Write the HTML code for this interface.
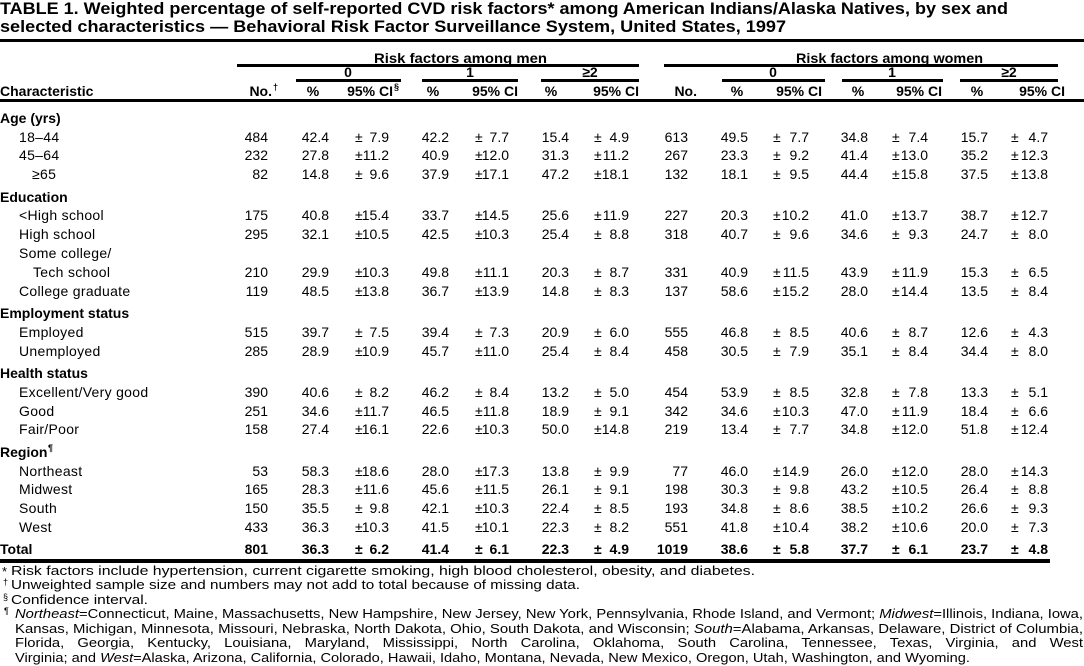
<!DOCTYPE html>
<html><head><meta charset="utf-8"><style>
html,body{margin:0;padding:0;background:#fff;}
svg{display:block}
text{font-family:"Liberation Sans",Arial,Helvetica,sans-serif;font-size:14px;fill:#000}
.b{font-weight:bold}
.r{text-anchor:end}
.m{text-anchor:middle}
.f{font-size:13px}
.s{font-size:9px}
.l{letter-spacing:0.3px}
.t{font-size:17px;font-weight:bold}
</style></head><body>
<svg width="1084" height="666" xmlns="http://www.w3.org/2000/svg">
<rect width="1084" height="666" fill="#fff"/>
<text class="t" x="0" y="14" textLength="1008" lengthAdjust="spacingAndGlyphs">TABLE 1. Weighted percentage of self-reported CVD risk factors* among American Indians/Alaska Natives, by sex and</text>
<text class="t" x="0" y="32" textLength="786" lengthAdjust="spacingAndGlyphs">selected characteristics — Behavioral Risk Factor Surveillance System, United States, 1997</text>
<rect x="0" y="39" width="1084" height="3"/>
<text class="b" x="374" y="63" textLength="173" lengthAdjust="spacingAndGlyphs">Risk factors among men</text>
<text class="b" x="796" y="63" textLength="187" lengthAdjust="spacingAndGlyphs">Risk factors among women</text>
<rect x="237" y="64" width="402" height="3"/>
<rect x="664" y="64" width="394" height="3"/>
<text class="b m" x="348" y="77">0</text>
<text class="b m" x="470" y="77">1</text>
<text class="b m" x="590" y="77">≥2</text>
<text class="b m" x="773" y="77">0</text>
<text class="b m" x="892" y="77">1</text>
<text class="b m" x="1009" y="77">≥2</text>
<rect x="296" y="79" width="105" height="3"/>
<rect x="422" y="79" width="96" height="3"/>
<rect x="541" y="79" width="98" height="3"/>
<rect x="722" y="79" width="103" height="3"/>
<rect x="842" y="79" width="101" height="3"/>
<rect x="960" y="79" width="98" height="3"/>
<text class="b" x="0" y="96">Characteristic</text>
<text class="b r" x="272" y="96">No.</text><text class="b s" x="273" y="90">†</text>
<text class="b m" x="313" y="96">%</text>
<text class="b r" x="393" y="96">95% CI</text><text class="b s" x="394" y="90">§</text>
<text class="b m" x="433" y="96">%</text>
<text class="b r" x="518" y="96">95% CI</text>
<text class="b m" x="551" y="96">%</text>
<text class="b r" x="639" y="96">95% CI</text>
<text class="b r" x="697" y="96">No.</text>
<text class="b m" x="737" y="96">%</text>
<text class="b r" x="822" y="96">95% CI</text>
<text class="b m" x="858" y="96">%</text>
<text class="b r" x="942" y="96">95% CI</text>
<text class="b m" x="977" y="96">%</text>
<text class="b r" x="1065" y="96">95% CI</text>
<rect x="0" y="99" width="1084" height="3"/>

<text class="b" x="0" y="123">Age (yrs)</text>
<g transform="translate(0,142)"><text class="l" x="19">18–44</text><text class="r"><tspan x="268">484</tspan><tspan x="329">42.4</tspan><tspan x="389">7.9</tspan><tspan x="449">42.2</tspan><tspan x="509">7.7</tspan><tspan x="569">15.4</tspan><tspan x="629">4.9</tspan><tspan x="688">613</tspan><tspan x="748">49.5</tspan><tspan x="809">7.7</tspan><tspan x="868">34.8</tspan><tspan x="928">7.4</tspan><tspan x="988">15.7</tspan><tspan x="1048">4.7</tspan></text><text x="355 475 594 773 892 1011">±±±±±±</text></g>
<g transform="translate(0,160)"><text class="l" x="19">45–64</text><text class="r"><tspan x="268">232</tspan><tspan x="329">27.8</tspan><tspan x="389">11.2</tspan><tspan x="449">40.9</tspan><tspan x="509">12.0</tspan><tspan x="569">31.3</tspan><tspan x="629">11.2</tspan><tspan x="688">267</tspan><tspan x="748">23.3</tspan><tspan x="809">9.2</tspan><tspan x="868">41.4</tspan><tspan x="928">13.0</tspan><tspan x="988">35.2</tspan><tspan x="1048">12.3</tspan></text><text x="355 475 594 773 892 1011">±±±±±±</text></g>
<g transform="translate(0,179)"><text class="l" x="32">≥65</text><text class="r"><tspan x="268">82</tspan><tspan x="329">14.8</tspan><tspan x="389">9.6</tspan><tspan x="449">37.9</tspan><tspan x="509">17.1</tspan><tspan x="569">47.2</tspan><tspan x="629">18.1</tspan><tspan x="688">132</tspan><tspan x="748">18.1</tspan><tspan x="809">9.5</tspan><tspan x="868">44.4</tspan><tspan x="928">15.8</tspan><tspan x="988">37.5</tspan><tspan x="1048">13.8</tspan></text><text x="355 475 594 773 892 1011">±±±±±±</text></g>

<text class="b" x="0" y="202">Education</text>
<g transform="translate(0,220)"><text class="l" x="19">&lt;High school</text><text class="r"><tspan x="268">175</tspan><tspan x="329">40.8</tspan><tspan x="389">15.4</tspan><tspan x="449">33.7</tspan><tspan x="509">14.5</tspan><tspan x="569">25.6</tspan><tspan x="629">11.9</tspan><tspan x="688">227</tspan><tspan x="748">20.3</tspan><tspan x="809">10.2</tspan><tspan x="868">41.0</tspan><tspan x="928">13.7</tspan><tspan x="988">38.7</tspan><tspan x="1048">12.7</tspan></text><text x="355 475 594 773 892 1011">±±±±±±</text></g>
<g transform="translate(0,239)"><text class="l" x="19">High school</text><text class="r"><tspan x="268">295</tspan><tspan x="329">32.1</tspan><tspan x="389">10.5</tspan><tspan x="449">42.5</tspan><tspan x="509">10.3</tspan><tspan x="569">25.4</tspan><tspan x="629">8.8</tspan><tspan x="688">318</tspan><tspan x="748">40.7</tspan><tspan x="809">9.6</tspan><tspan x="868">34.6</tspan><tspan x="928">9.3</tspan><tspan x="988">24.7</tspan><tspan x="1048">8.0</tspan></text><text x="355 475 594 773 892 1011">±±±±±±</text></g>
<text class="l" x="19" y="258">Some college/</text>
<g transform="translate(0,277)"><text class="l" x="33">Tech school</text><text class="r"><tspan x="268">210</tspan><tspan x="329">29.9</tspan><tspan x="389">10.3</tspan><tspan x="449">49.8</tspan><tspan x="509">11.1</tspan><tspan x="569">20.3</tspan><tspan x="629">8.7</tspan><tspan x="688">331</tspan><tspan x="748">40.9</tspan><tspan x="809">11.5</tspan><tspan x="868">43.9</tspan><tspan x="928">11.9</tspan><tspan x="988">15.3</tspan><tspan x="1048">6.5</tspan></text><text x="355 475 594 773 892 1011">±±±±±±</text></g>
<g transform="translate(0,296)"><text class="l" x="19">College graduate</text><text class="r"><tspan x="268">119</tspan><tspan x="329">48.5</tspan><tspan x="389">13.8</tspan><tspan x="449">36.7</tspan><tspan x="509">13.9</tspan><tspan x="569">14.8</tspan><tspan x="629">8.3</tspan><tspan x="688">137</tspan><tspan x="748">58.6</tspan><tspan x="809">15.2</tspan><tspan x="868">28.0</tspan><tspan x="928">14.4</tspan><tspan x="988">13.5</tspan><tspan x="1048">8.4</tspan></text><text x="355 475 594 773 892 1011">±±±±±±</text></g>

<text class="b" x="0" y="318">Employment status</text>
<g transform="translate(0,337)"><text class="l" x="19">Employed</text><text class="r"><tspan x="268">515</tspan><tspan x="329">39.7</tspan><tspan x="389">7.5</tspan><tspan x="449">39.4</tspan><tspan x="509">7.3</tspan><tspan x="569">20.9</tspan><tspan x="629">6.0</tspan><tspan x="688">555</tspan><tspan x="748">46.8</tspan><tspan x="809">8.5</tspan><tspan x="868">40.6</tspan><tspan x="928">8.7</tspan><tspan x="988">12.6</tspan><tspan x="1048">4.3</tspan></text><text x="355 475 594 773 892 1011">±±±±±±</text></g>
<g transform="translate(0,356)"><text class="l" x="19">Unemployed</text><text class="r"><tspan x="268">285</tspan><tspan x="329">28.9</tspan><tspan x="389">10.9</tspan><tspan x="449">45.7</tspan><tspan x="509">11.0</tspan><tspan x="569">25.4</tspan><tspan x="629">8.4</tspan><tspan x="688">458</tspan><tspan x="748">30.5</tspan><tspan x="809">7.9</tspan><tspan x="868">35.1</tspan><tspan x="928">8.4</tspan><tspan x="988">34.4</tspan><tspan x="1048">8.0</tspan></text><text x="355 475 594 773 892 1011">±±±±±±</text></g>

<text class="b" x="0" y="378">Health status</text>
<g transform="translate(0,397)"><text class="l" x="19">Excellent/Very good</text><text class="r"><tspan x="268">390</tspan><tspan x="329">40.6</tspan><tspan x="389">8.2</tspan><tspan x="449">46.2</tspan><tspan x="509">8.4</tspan><tspan x="569">13.2</tspan><tspan x="629">5.0</tspan><tspan x="688">454</tspan><tspan x="748">53.9</tspan><tspan x="809">8.5</tspan><tspan x="868">32.8</tspan><tspan x="928">7.8</tspan><tspan x="988">13.3</tspan><tspan x="1048">5.1</tspan></text><text x="355 475 594 773 892 1011">±±±±±±</text></g>
<g transform="translate(0,416)"><text class="l" x="19">Good</text><text class="r"><tspan x="268">251</tspan><tspan x="329">34.6</tspan><tspan x="389">11.7</tspan><tspan x="449">46.5</tspan><tspan x="509">11.8</tspan><tspan x="569">18.9</tspan><tspan x="629">9.1</tspan><tspan x="688">342</tspan><tspan x="748">34.6</tspan><tspan x="809">10.3</tspan><tspan x="868">47.0</tspan><tspan x="928">11.9</tspan><tspan x="988">18.4</tspan><tspan x="1048">6.6</tspan></text><text x="355 475 594 773 892 1011">±±±±±±</text></g>
<g transform="translate(0,434)"><text class="l" x="19">Fair/Poor</text><text class="r"><tspan x="268">158</tspan><tspan x="329">27.4</tspan><tspan x="389">16.1</tspan><tspan x="449">22.6</tspan><tspan x="509">10.3</tspan><tspan x="569">50.0</tspan><tspan x="629">14.8</tspan><tspan x="688">219</tspan><tspan x="748">13.4</tspan><tspan x="809">7.7</tspan><tspan x="868">34.8</tspan><tspan x="928">12.0</tspan><tspan x="988">51.8</tspan><tspan x="1048">12.4</tspan></text><text x="355 475 594 773 892 1011">±±±±±±</text></g>

<text class="b" x="0" y="457">Region</text><text class="b s" x="48" y="451">¶</text>
<g transform="translate(0,476)"><text class="l" x="19">Northeast</text><text class="r"><tspan x="268">53</tspan><tspan x="329">58.3</tspan><tspan x="389">18.6</tspan><tspan x="449">28.0</tspan><tspan x="509">17.3</tspan><tspan x="569">13.8</tspan><tspan x="629">9.9</tspan><tspan x="688">77</tspan><tspan x="748">46.0</tspan><tspan x="809">14.9</tspan><tspan x="868">26.0</tspan><tspan x="928">12.0</tspan><tspan x="988">28.0</tspan><tspan x="1048">14.3</tspan></text><text x="355 475 594 773 892 1011">±±±±±±</text></g>
<g transform="translate(0,494)"><text class="l" x="19">Midwest</text><text class="r"><tspan x="268">165</tspan><tspan x="329">28.3</tspan><tspan x="389">11.6</tspan><tspan x="449">45.6</tspan><tspan x="509">11.5</tspan><tspan x="569">26.1</tspan><tspan x="629">9.1</tspan><tspan x="688">198</tspan><tspan x="748">30.3</tspan><tspan x="809">9.8</tspan><tspan x="868">43.2</tspan><tspan x="928">10.5</tspan><tspan x="988">26.4</tspan><tspan x="1048">8.8</tspan></text><text x="355 475 594 773 892 1011">±±±±±±</text></g>
<g transform="translate(0,513)"><text class="l" x="19">South</text><text class="r"><tspan x="268">150</tspan><tspan x="329">35.5</tspan><tspan x="389">9.8</tspan><tspan x="449">42.1</tspan><tspan x="509">10.3</tspan><tspan x="569">22.4</tspan><tspan x="629">8.5</tspan><tspan x="688">193</tspan><tspan x="748">34.8</tspan><tspan x="809">8.6</tspan><tspan x="868">38.5</tspan><tspan x="928">10.2</tspan><tspan x="988">26.6</tspan><tspan x="1048">9.3</tspan></text><text x="355 475 594 773 892 1011">±±±±±±</text></g>
<g transform="translate(0,532)"><text class="l" x="19">West</text><text class="r"><tspan x="268">433</tspan><tspan x="329">36.3</tspan><tspan x="389">10.3</tspan><tspan x="449">41.5</tspan><tspan x="509">10.1</tspan><tspan x="569">22.3</tspan><tspan x="629">8.2</tspan><tspan x="688">551</tspan><tspan x="748">41.8</tspan><tspan x="809">10.4</tspan><tspan x="868">38.2</tspan><tspan x="928">10.6</tspan><tspan x="988">20.0</tspan><tspan x="1048">7.3</tspan></text><text x="355 475 594 773 892 1011">±±±±±±</text></g>
<g transform="translate(0,554)"><text class="b" x="0">Total</text><text class="b r"><tspan x="268">801</tspan><tspan x="329">36.3</tspan><tspan x="389">6.2</tspan><tspan x="449">41.4</tspan><tspan x="509">6.1</tspan><tspan x="569">22.3</tspan><tspan x="629">4.9</tspan><tspan x="688">1019</tspan><tspan x="748">38.6</tspan><tspan x="809">5.8</tspan><tspan x="868">37.7</tspan><tspan x="928">6.1</tspan><tspan x="988">23.7</tspan><tspan x="1048">4.8</tspan></text><text class="b" x="355 475 594 773 892 1011">±±±±±±</text></g>
<rect x="0" y="559" width="1050" height="4"/>

<text class="f" x="2" y="576">*</text>
<text class="f" x="11" y="575" textLength="744" lengthAdjust="spacingAndGlyphs">Risk factors include hypertension, current cigarette smoking, high blood cholesterol, obesity, and diabetes.</text>
<text class="s" x="3" y="585">†</text>
<text class="f" x="11" y="589" textLength="569" lengthAdjust="spacingAndGlyphs">Unweighted sample size and numbers may not add to total because of missing data.</text>
<text class="s" x="3" y="600">§</text>
<text class="f" x="11" y="604" textLength="137" lengthAdjust="spacingAndGlyphs">Confidence interval.</text>
<text class="s" x="4" y="614">¶</text>
<text class="f" x="15" y="618" textLength="1068" lengthAdjust="spacingAndGlyphs"><tspan font-style="italic">Northeast</tspan>=Connecticut, Maine, Massachusetts, New Hampshire, New Jersey, New York, Pennsylvania, Rhode Island, and Vermont; <tspan font-style="italic">Midwest</tspan>=Illinois, Indiana, Iowa,</text>
<text class="f" x="15" y="633" textLength="1068" lengthAdjust="spacingAndGlyphs">Kansas, Michigan, Minnesota, Missouri, Nebraska, North Dakota, Ohio, South Dakota, and Wisconsin; <tspan font-style="italic">South</tspan>=Alabama, Arkansas, Delaware, District of Columbia,</text>
<text class="f" x="15" y="647" word-spacing="8" textLength="1068" lengthAdjust="spacingAndGlyphs">Florida, Georgia, Kentucky, Louisiana, Maryland, Mississippi, North Carolina, Oklahoma, South Carolina, Tennessee, Texas, Virginia, and West</text>
<text class="f" x="15" y="662" textLength="955" lengthAdjust="spacingAndGlyphs">Virginia; and <tspan font-style="italic">West</tspan>=Alaska, Arizona, California, Colorado, Hawaii, Idaho, Montana, Nevada, New Mexico, Oregon, Utah, Washington, and Wyoming.</text>
</svg>
</body></html>
